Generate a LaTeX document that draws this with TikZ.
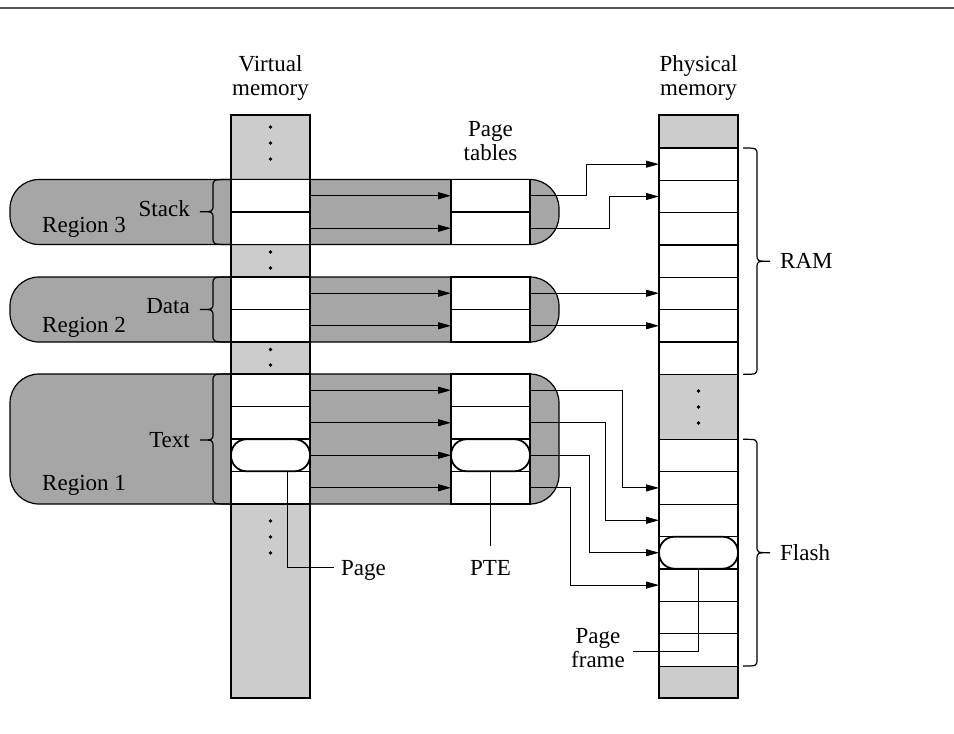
\documentclass[tikz,border=0pt]{standalone}
\usepackage{fontspec}
\setmainfont{Liberation Serif}
\usetikzlibrary{arrows.meta}
\definecolor{colgray}{gray}{0.8}
\definecolor{reggray}{gray}{0.65}
\definecolor{rulegray}{gray}{0.35}
\newcommand{\mybrace}[6]{%
  \draw[bracestyle] (#1,#4) .. controls (#2,#4) .. (#2,{#4+7}) -- (#2,{#5-7})
    .. controls (#2,#5) .. (#3,#5) .. controls (#2,#5) .. (#2,{#5+7})
    -- (#2,{#6-7}) .. controls (#2,#6) .. (#1,#6);}
\begin{document}
\begin{tikzpicture}[x=1pt,y=-1pt,
  cell/.style={draw, fill=white, line width=1.2pt, minimum width=79pt, minimum height=32.5pt, inner sep=0pt, outer sep=0pt},
  stad/.style={draw, fill=white, line width=1.8pt, rounded corners=15.5pt, minimum width=79pt, minimum height=32pt, inner sep=0pt, outer sep=0pt},
  region/.style={draw, fill=reggray, line width=1.2pt, rounded corners=29pt},
  colbox/.style={draw, fill=colgray, line width=1.2pt, inner sep=0pt, outer sep=0pt, minimum width=79pt, minimum height=583pt, anchor=north west},
  conn/.style={line width=0.9pt},
  arr/.style={conn, -{Triangle[length=13pt,width=7pt]}},
  lbl/.style={font=\fontsize{23}{24}\selectfont, inner sep=0pt},
  bracestyle/.style={line width=1.2pt}
]
\fill[white] (0,0) rectangle (954,734);
\path[use as bounding box] (0,0) rectangle (954,734);
\draw[line width=2.2pt, rulegray] (0,8) -- (954,8);

% top labels
\node[lbl, align=center, anchor=north] (vmlbl) at (270.5,55.3) {Virtual\\memory};
\node[lbl, align=center, anchor=north] (pmlbl) at (698.5,55.3) {Physical\\memory};
\node[lbl, align=center, anchor=north] (ptlbl) at (490.5,121.3) {Page\\tables};

% virtual memory column
\node[colbox] (vcol) at (231,115) {};

% regions
\draw[region] (10,179.5) rectangle (559,244.5);
\draw[region] (10,277) rectangle (559,342);
\draw[region] (10,374) rectangle (559,504);

% pages and page table entries
\foreach \n/\y in {3a/195.75,3b/228.25,2a/293.25,2b/325.75,1a/390.25,1b/422.75,1c/455.25,1d/487.75}{
  \node[cell] (v\n) at (270.5,\y) {};
  \node[cell] (p\n) at (490.5,\y) {};
}
\node[stad] (vpage) at (v1c) {};
\node[stad] (ptes) at (p1c) {};

% physical memory column
\node[colbox] (pcol) at (659,115) {};
\foreach \i in {1,...,7}{
  \node[cell, minimum height=32.33pt] (r\i) at (698.5,{148+32.33*(\i-0.5)}) {};
  \node[cell, minimum height=32.4pt] (f\i) at (698.5,{439.3+32.4*(\i-0.5)}) {};
}
\node[stad] (fpage) at (f4) {};

% dots
\foreach \y in {127,143,159,252,268,349.5,365,521,537,553}
  \fill (270.5,\y) circle[radius=1.8pt];
\foreach \y in {391,407,423}
  \fill (698.5,\y) circle[radius=1.8pt];

% virtual page -> page table arrows
\foreach \n in {3a,3b,2a,2b,1a,1b,1c,1d}
  \draw[arr] (v\n.east) -- (p\n.west);

% page table -> physical memory
\draw[arr] (p3a.east) -- ++(56,0) |- (r1.west);
\draw[arr] (p3b.east) -- ++(79,0) |- (r2.west);
\draw[arr] (p2a.east) -- (p2a.east -| r5.west);
\draw[arr] (p2b.east) -- (p2b.east -| r6.west);
\draw[arr] (p1a.east) -- ++(92,0) |- (f2.west);
\draw[arr] (p1b.east) -- ++(75.5,0) |- (f3.west);
\draw[arr] (p1c.east) -- ++(59,0) |- (fpage.west);
\draw[arr] (p1d.east) -- ++(40,0) |- (f5.west);

% braces and region labels
\mybrace{230}{213}{200}{179.5}{211.7}{244.5}
\mybrace{230}{213}{200}{277}{309.5}{342}
\mybrace{230}{213}{200}{374}{440}{504}
\mybrace{743}{757}{770}{148}{261.2}{374.3}
\mybrace{743}{757}{770}{439.3}{552.7}{666}

\node[lbl, anchor=base east] (stacklbl) at (190,216.7) {Stack};
\node[lbl, anchor=base west] (r3lbl) at (42,232.7) {Region 3};
\node[lbl, anchor=base east] (datalbl) at (190,313.3) {Data};
\node[lbl, anchor=base west] (r2lbl) at (42,332.7) {Region 2};
\node[lbl, anchor=base east] (textlbl) at (190,447.3) {Text};
\node[lbl, anchor=base west] (r1lbl) at (42,490.7) {Region 1};
\node[lbl, anchor=west] (ramlbl) at (780,261.2) {RAM};
\node[lbl, anchor=west] (flashlbl) at (780,552.7) {Flash};

% leaders
\coordinate (pagelead) at (334,567.5);
\draw[conn] ([xshift=17.2pt]vpage.south) |- (pagelead);
\node[lbl, anchor=base west] (pagelbl) at (341,575) {Page};

\coordinate (pteend) at (490.5,546);
\draw[conn] (ptes.south) -- (pteend);
\node[lbl, anchor=base] (ptelbl) at (490.5,575.5) {PTE};

\coordinate (pfend) at (633,651.7);
\draw[conn] (fpage.south) |- (pfend);
\node[lbl, align=center, anchor=north] (pflbl) at (598,628) {Page\\frame};
\end{tikzpicture}
\end{document}
